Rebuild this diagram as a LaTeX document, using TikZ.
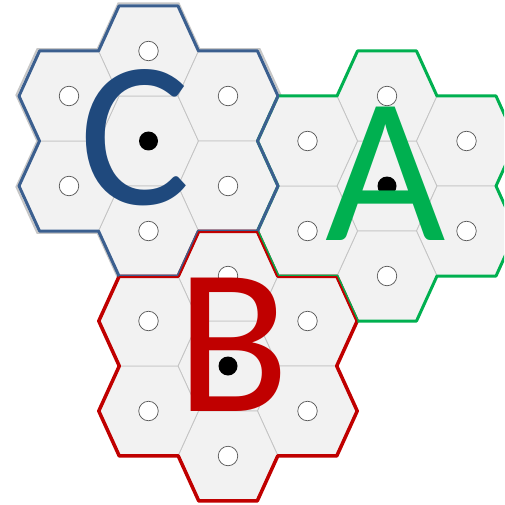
\documentclass[tikz,border=0pt]{standalone}
\usepackage{fontspec}
\setmainfont{Carlito}
\usepackage{xcolor}
\usepackage{tikz}

\definecolor{hexgray}{HTML}{F2F2F2}
\definecolor{edgegray}{HTML}{C4C4C4}
\definecolor{spotgray}{HTML}{595959}
\definecolor{rimblue}{HTML}{3B5F8F}
\definecolor{letterblue}{HTML}{1F497D}
\definecolor{ctgreen}{HTML}{00B050}
\definecolor{ctred}{HTML}{C00000}

\begin{document}
\begin{tikzpicture}[
  x=1pt, y=-1pt,
  hexcell/.style={fill=hexgray, draw=edgegray, line width=0.8pt},
  spot/.style={circle, draw=spotgray, fill=white, line width=0.7pt, minimum size=19.5pt, inner sep=0pt},
  hub/.style={circle, fill=black, minimum size=19pt, inner sep=0pt},
  rim/.style={line width=3pt, line join=round},
  letter/.style={inner sep=0pt, font=\fontsize{208}{208}\selectfont},
  flower/.pic={\path[pic actions] (-29.5,-135) -- (29.5,-135) -- (50,-90) -- (109,-90) -- (129.5,-45) -- (109,0) -- (129.5,45) -- (109,90) -- (50,90) -- (29.5,135) -- (-29.5,135) -- (-50,90) -- (-109,90) -- (-129.5,45) -- (-109,0) -- (-129.5,-45) -- (-109,-90) -- (-50,-90) -- cycle;}
]
\clip (0,0) rectangle (504,505);

\pic[draw=gray!45, line width=2pt, scale=1.02] at (148.5,141) {flower};

\foreach \cx/\cy [count=\k] in {148.5/141, 387/186, 228/366} {
  \foreach \dx/\dy in {0/0, 0/-90, 79.5/-45, 79.5/45, 0/90, -79.5/45, -79.5/-45}
    \draw[hexcell, shift={(\cx+\dx,\cy+\dy)}] (50,0) -- (29.5,45) -- (-29.5,45) -- (-50,0) -- (-29.5,-45) -- (29.5,-45) -- cycle;
  \node[hub] (hub\k) at (\cx,\cy) {};
  \foreach \dx/\dy [count=\n] in {0/-90, 79.5/-45, 79.5/45, 0/90, -79.5/45, -79.5/-45}
    \node[spot] (spot\k-\n) at (\cx+\dx,\cy+\dy) {};
}

\pic[rim, draw=ctred] at (228,366) {flower};
\pic[rim, draw=ctgreen] at (387,186) {flower};
\pic[rim, draw=rimblue] at (148.5,141) {flower};
\begin{scope}
  \clip[shift={(228,366)}] (-29.5,-135) -- (29.5,-135) -- (50,-90) -- (109,-90) -- (129.5,-45) -- (109,0) -- (129.5,45) -- (109,90) -- (50,90) -- (29.5,135) -- (-29.5,135) -- (-50,90) -- (-109,90) -- (-129.5,45) -- (-109,0) -- (-129.5,-45) -- (-109,-90) -- (-50,-90) -- cycle;
  \pic[draw=ctred, line width=4pt, line join=round] at (228,366) {flower};
\end{scope}

\node[letter, text=letterblue] (lc) at (135,138) {C};
\node[letter, text=ctgreen] (la) at (386,174) {A};
\node[letter, text=ctred] (lb) at (233,345) {B};
\end{tikzpicture}
\end{document}
